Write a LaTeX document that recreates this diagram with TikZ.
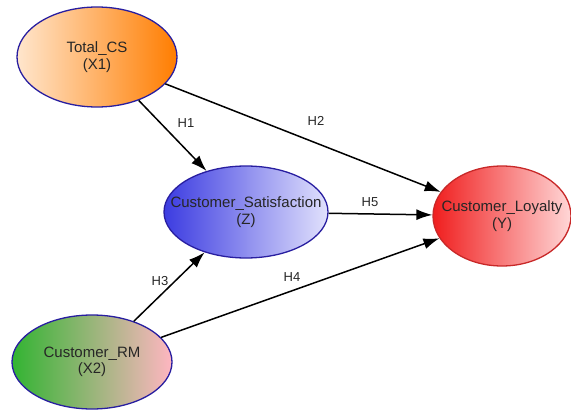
\documentclass[tikz,border=0pt]{standalone}
\usepackage{fontspec}
\setmainfont{Liberation Sans}
\usetikzlibrary{shapes.geometric,arrows.meta}
\definecolor{bord}{RGB}{40,30,160}
\definecolor{redbord}{RGB}{200,40,40}
\tikzset{
  var/.style={ellipse, draw=bord, line width=1.3pt, inner sep=0pt, shading angle=80},
  vtext/.style={align=center, font=\fontsize{15}{16.5}\selectfont, text=black!85},
  conn/.style={-{Latex[length=16pt,width=11pt]}, line width=1.5pt, black},
  hlab/.style={font=\fontsize{13}{15}\selectfont, text=black!85}
}
\begin{document}
\begin{tikzpicture}[x=1pt,y=-1pt]
\useasboundingbox (0,0) rectangle (571,412);
\node[var, minimum width=160pt, minimum height=100pt, left color={rgb,255:red,255;green,230;blue,205}, right color={rgb,255:red,255;green,125;blue,0}, label={[vtext]center:Total\_CS\\(X1)}] (x1) at (97,57) {};
\node[var, minimum width=164pt, minimum height=92pt, left color={rgb,255:red,60;green,60;blue,225}, right color={rgb,255:red,225;green,225;blue,252}, label={[vtext]center:Customer\_Satisfaction\\(Z)}] (z) at (246,212) {};
\node[var, draw=redbord, minimum width=138pt, minimum height=100pt, left color={rgb,255:red,240;green,30;blue,30}, right color={rgb,255:red,255;green,215;blue,215}, label={[vtext]center:Customer\_Loyalty\\(Y)}] (y) at (502,216) {};
\node[var, minimum width=160pt, minimum height=94pt, left color={rgb,255:red,50;green,180;blue,50}, right color={rgb,255:red,255;green,182;blue,193}, label={[vtext]center:Customer\_RM\\(X2)}] (x2) at (92,362) {};
\draw[conn] (x1) -- (z);
\draw[conn] (x1) -- (y);
\draw[conn] (z) -- (y);
\draw[conn] (x2) -- (z);
\draw[conn] (x2) -- (y);
\node[hlab] (h1) at (186,123) {H1};
\node[hlab] (h2) at (316,121) {H2};
\node[hlab] (h5) at (370,202) {H5};
\node[hlab] (h3) at (160,281) {H3};
\node[hlab] (h4) at (292,277) {H4};
\end{tikzpicture}
\end{document}
